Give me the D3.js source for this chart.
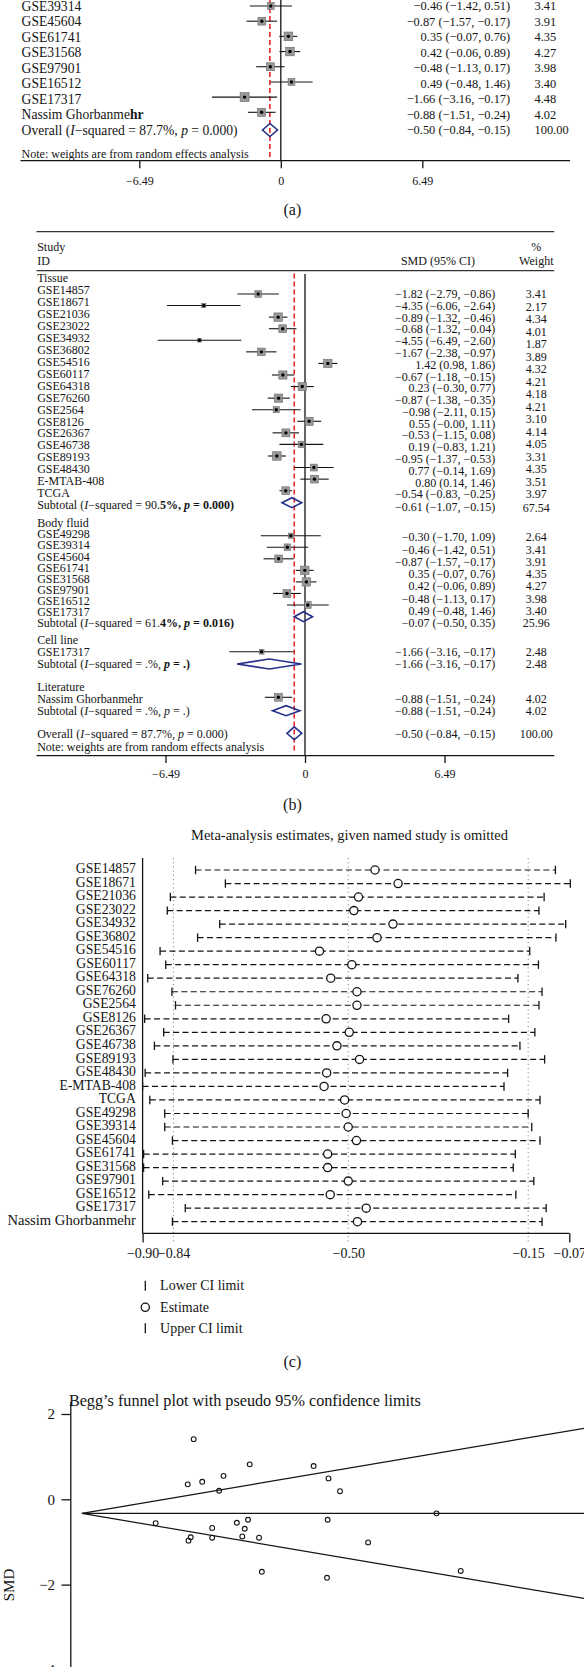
<!DOCTYPE html>
<html><head><meta charset="utf-8">
<script src="https://cdn.jsdelivr.net/npm/d3@7"></script>
<style>
body{margin:0;background:#fff}
svg{display:block;font-family:"Liberation Serif","Times New Roman",serif}
text{white-space:pre}
</style>
</head><body>
<svg id="c" width="584" height="1667"></svg>
<script>
// ---------------- DATA ----------------
// Panel (a)
const aStudies = ["GSE39314","GSE45604","GSE61741","GSE31568","GSE97901","GSE16512","GSE17317","Nassim Ghorbanmehr"];
const aSMD   = [-0.46,-0.87,0.35,0.42,-0.48,0.49,-1.66,-0.88];
const aLower = [-1.42,-1.57,-0.07,-0.06,-1.13,-0.48,-3.16,-1.51];
const aUpper = [0.51,-0.17,0.76,0.89,0.17,1.46,-0.17,-0.24];
const aWeight = ["3.41","3.91","4.35","4.27","3.98","3.40","4.48","4.02"];
const overall = [-0.50,-0.84,-0.15];
const overallWeight = "100.00";
const axisTicksAB = [-6.49, 0, 6.49];

// Panel (b)
const tissueStudies = ["GSE14857","GSE18671","GSE21036","GSE23022","GSE34932","GSE36802","GSE54516","GSE60117","GSE64318","GSE76260","GSE2564","GSE8126","GSE26367","GSE46738","GSE89193","GSE48430","E-MTAB-408","TCGA"];
const tissueSMD   = [-1.82,-4.35,-0.89,-0.68,-4.55,-1.67,1.42,-0.67,0.23,-0.87,-0.98,0.55,-0.53,0.19,-0.95,0.77,0.80,-0.54];
const tissueLower = [-2.79,-6.06,-1.32,-1.32,-6.49,-2.38,0.98,-1.18,-0.30,-1.38,-2.11,-0.00,-1.15,-0.83,-1.37,-0.14,0.14,-0.83];
const tissueUpper = [-0.86,-2.64,-0.46,-0.04,-2.60,-0.97,1.86,-0.15,0.77,-0.35,0.15,1.11,0.08,1.21,-0.53,1.69,1.46,-0.25];
const tissueWeight = ["3.41","2.17","4.34","4.01","1.87","3.89","4.32","4.21","4.18","4.21","3.10","4.14","4.05","3.31","4.35","3.51","3.97"];
const tissueSub = [-0.61,-1.07,-0.15]; const tissueSubW = "67.54";

const bodyLabels = ["GSE49298","GSE39314","GSE45604","GSE61741","GSE31568","GSE97901","GSE16512","GSE17317"];
const bodySMD   = [-0.30,-0.46,-0.87,0.35,0.42,-0.48,0.49];
const bodyLower = [-1.70,-1.42,-1.57,-0.07,-0.06,-1.13,-0.48];
const bodyUpper = [1.09,0.51,-0.17,0.76,0.89,0.17,1.46];
const bodyWeight = ["2.64","3.41","3.91","4.35","4.27","3.98","3.40"];
const bodySub = [-0.07,-0.50,0.35]; const bodySubW = "25.96";

const cellStudies = ["GSE17317"]; const cellSMD=[-1.66]; const cellLower=[-3.16]; const cellUpper=[-0.17]; const cellWeight=["2.48"];
const cellSub = [-1.66,-3.16,-0.17]; const cellSubW = "2.48";
const litStudies = ["Nassim Ghorbanmehr"]; const litSMD=[-0.88]; const litLower=[-1.51]; const litUpper=[-0.24]; const litWeight=["4.02"];
const litSub = [-0.88,-1.51,-0.24]; const litSubW = "4.02";

// Panel (c)
const cStudies = ["GSE14857","GSE18671","GSE21036","GSE23022","GSE34932","GSE36802","GSE54516","GSE60117","GSE64318","GSE76260","GSE2564","GSE8126","GSE26367","GSE46738","GSE89193","GSE48430","E-MTAB-408","TCGA","GSE49298","GSE39314","GSE45604","GSE61741","GSE31568","GSE97901","GSE16512","GSE17317","Nassim Ghorbanmehr"];
const cLower = [-0.797,-0.739,-0.846,-0.852,-0.750,-0.793,-0.866,-0.855,-0.890,-0.843,-0.836,-0.896,-0.859,-0.877,-0.841,-0.895,-0.900,-0.886,-0.857,-0.857,-0.842,-0.898,-0.898,-0.861,-0.888,-0.817,-0.842];
const cEst   = [-0.448,-0.403,-0.480,-0.489,-0.413,-0.444,-0.556,-0.493,-0.534,-0.483,-0.483,-0.543,-0.498,-0.522,-0.478,-0.542,-0.547,-0.507,-0.504,-0.500,-0.484,-0.540,-0.540,-0.500,-0.535,-0.465,-0.482];
const cUpper = [-0.097,-0.068,-0.119,-0.129,-0.077,-0.096,-0.147,-0.130,-0.170,-0.123,-0.129,-0.188,-0.137,-0.166,-0.118,-0.190,-0.197,-0.127,-0.150,-0.143,-0.127,-0.175,-0.179,-0.139,-0.174,-0.115,-0.123];
const cTicks = [-0.90,-0.84,-0.50,-0.15,-0.07];
const cRefLines = [-0.84,-0.50,-0.15];
const cLegend = ["Lower CI limit","Estimate","Upper CI limit"];

// Panel (d)
const funnelSE  = [0.2265,0.2144,0.2438,0.287,0.278,0.34,0.4695,0.4997,0.523,0.1495,0.216,0.2205,0.264,0.264,0.314,0.3366,0.33,0.325,0.359,0.3646,0.4967,0.498,0.58,0.7186,0.7676,0.436,0.496];
const funnelSMD = [1.41,0.35,0.41,0.55,0.20,0.82,0.78,0.49,0.19,-0.56,-0.97,-0.89,-0.67,-0.90,-0.55,-0.48,-0.69,-0.87,-0.90,-1.70,-1.84,-0.48,-1.01,-0.33,-1.68,-4.35,-4.55];
const funnelPooled = -0.33;
const dTicks = [2,0,-2,-4];

// ---------------- HELPERS ----------------
const svg = d3.select("#c");
const MINUS = "\u2212";
const fmt = v => ((v < 0 || Object.is(v, -0)) ? MINUS : "") + Math.abs(v).toFixed(2);
const ciText = (m,l,u) => `${fmt(m)} (${fmt(l)}, ${fmt(u)})`;
const INK = "#141414", RED = "#e3262c", NAVY = "#25308a";

function rich(g, x, y, parts, size, anchor) {
  const t = g.append("text").attr("x", x).attr("y", y).attr("dy", "0.34em")
    .attr("font-size", size).attr("text-anchor", anchor || "start").attr("fill", INK);
  parts.forEach(p => {
    const [s, st] = Array.isArray(p) ? p : [p, ""];
    const ts = t.append("tspan").text(s);
    if (st.includes("i")) ts.attr("font-style", "italic");
    if (st.includes("b")) ts.attr("font-weight", "bold");
  });
  return t;
}
function study(g, xs, y, m, l, u, size) {
  g.append("line").attr("x1", xs(l)).attr("x2", xs(u)).attr("y1", y).attr("y2", y)
    .attr("stroke", INK).attr("stroke-width", 1.1);
  g.append("rect").attr("x", xs(m) - size/2).attr("y", y - size/2).attr("width", size).attr("height", size)
    .attr("fill", "#999").attr("stroke", "#6a6a6a").attr("stroke-width", 0.6);
  g.append("circle").attr("cx", xs(m)).attr("cy", y).attr("r", 1.7).attr("fill", "#000");
}
function diamond(g, xs, y, m, l, u, h) {
  g.append("path").attr("d", `M${xs(l)},${y}L${xs(m)},${y-h}L${xs(u)},${y}L${xs(m)},${y+h}Z`)
    .attr("fill", "none").attr("stroke", NAVY).attr("stroke-width", 1.6);
}
function stat(prefix, i2, p, boldTail, boldI2Tail) {
  const parts = [prefix + " (", ["I", "i"]];
  if (boldI2Tail) {
    parts.push(MINUS + "squared = " + i2.slice(0, -2));
    parts.push([i2.slice(-2) + ", ", "b"]);
    parts.push(["p", "bi"]); parts.push([" = " + p + ")", "b"]);
  } else {
    parts.push(MINUS + "squared = " + i2 + ", ");
    parts.push(["p", boldTail ? "bi" : "i"]); parts.push([" = " + p + ")", boldTail ? "b" : ""]);
  }
  return parts;
}
function styleAxis(ax, size) {
  ax.select(".domain").remove();
  ax.attr("font-family", null).attr("font-size", size);
  ax.selectAll("line").attr("stroke", INK).attr("stroke-width", 1.3);
  ax.selectAll("text").attr("fill", INK);
}

// ---------------- PANEL (a) ----------------
{
  const g = svg.append("g");
  const xa = d3.scaleLinear().domain([-6.49, 6.49]).range([139.3, 422.3]);
  const rowA = d3.scaleLinear().domain([0, 8]).range([6, 130]);
  const markA = d3.scaleLinear().domain([0, 7]).range([6, 112.3]);
  const axisY = 160.7;
  g.append("line").attr("x1", xa(0)).attr("x2", xa(0)).attr("y1", 0).attr("y2", axisY).attr("stroke", INK).attr("stroke-width", 1.3);
  g.append("line").attr("x1", xa(overall[0])).attr("x2", xa(overall[0])).attr("y1", 0).attr("y2", axisY - 1)
    .attr("stroke", RED).attr("stroke-width", 1.6).attr("stroke-dasharray", "5,3");
  aStudies.forEach((s, i) => {
    const parts = s === "Nassim Ghorbanmehr" ? [s.slice(0, -2), [s.slice(-2), "b"]] : [s];
    rich(g, 21.6, rowA(i), parts, 13.6);
    study(g, xa, markA(i), aSMD[i], aLower[i], aUpper[i], 2.0 * +aWeight[i]);
    rich(g, 510.2, rowA(i), [ciText(aSMD[i], aLower[i], aUpper[i])], 12.4, "end");
    rich(g, 534.5, rowA(i), [aWeight[i]], 12.4);
  });
  rich(g, 21.6, rowA(8), stat("Overall", "87.7%", "0.000", false, false), 13.6);
  diamond(g, xa, rowA(8), overall[0], overall[1], overall[2], 6.5);
  rich(g, 510.2, rowA(8), [ciText(...overall)], 12.4, "end");
  rich(g, 534.5, rowA(8), [overallWeight], 12.4);
  rich(g, 21.6, 154, ["Note: weights are from random effects analysis"], 12);
  g.append("line").attr("x1", 20.5).attr("x2", 570).attr("y1", axisY).attr("y2", axisY).attr("stroke", INK).attr("stroke-width", 1.3);
  const ax = g.append("g").attr("transform", `translate(0,${axisY})`)
    .call(d3.axisBottom(xa).tickValues(axisTicksAB).tickFormat(d => d === 0 ? "0" : fmt(d)).tickSize(7.6).tickPadding(8).tickSizeOuter(0));
  styleAxis(ax, 12);
  rich(g, 292.4, 210, ["(a)"], 16, "middle");
}

// ---------------- PANEL (b) ----------------
{
  const g = svg.append("g");
  const xb = d3.scaleLinear().domain([-6.49, 6.49]).range([165.5, 444.5]);
  const xbS = d3.scaleLinear().domain([-6.49, 6.49]).range([165.5 - 7.7, 444.5 - 7.7]);
  const axisY = 755.7;
  const LX = 37.2, VX = 495.3, WX = 536.3, FS = 12;
  g.append("line").attr("x1", 36.5).attr("x2", 554.2).attr("y1", 231.7).attr("y2", 231.7).attr("stroke", "#333").attr("stroke-width", 1.3);
  g.append("line").attr("x1", 36.5).attr("x2", 554.2).attr("y1", 270.7).attr("y2", 270.7).attr("stroke", "#333").attr("stroke-width", 1.3);
  rich(g, LX, 246.7, ["Study"], FS); rich(g, LX, 260.7, ["ID"], FS);
  rich(g, 474.9, 261, ["SMD (95% CI)"], FS, "end");
  rich(g, WX, 246.7, ["%"], FS, "middle"); rich(g, WX, 261, ["Weight"], FS, "middle");
  g.append("line").attr("x1", xb(0)).attr("x2", xb(0)).attr("y1", 274).attr("y2", axisY).attr("stroke", INK).attr("stroke-width", 1.3);
  g.append("line").attr("x1", xb(overall[0])).attr("x2", xb(overall[0])).attr("y1", 273.5).attr("y2", axisY - 3)
    .attr("stroke", RED).attr("stroke-width", 1.6).attr("stroke-dasharray", "5,3");

  // Tissue
  const tLab = d3.scaleLinear().domain([0, 19]).range([278.3, 505]);
  const tMark = d3.scaleLinear().domain([0, 17]).range([294, 490.7]);
  const tVal = d3.scaleLinear().domain([0, 17]).range([294, 494.3]);
  const tW = d3.scaleLinear().domain([0, 16]).range([294, 494.3]);
  rich(g, LX, tLab(0), ["Tissue"], FS);
  tissueStudies.forEach((s, i) => {
    rich(g, LX, tLab(i + 1), [s], FS);
    const w = +tissueWeight[Math.min(i, tissueWeight.length - 1)];
    study(g, xbS, tMark(i), tissueSMD[i], tissueLower[i], tissueUpper[i], 1.95 * w);
    rich(g, VX, tVal(i), [ciText(tissueSMD[i], tissueLower[i], tissueUpper[i])], FS, "end");
  });
  tissueWeight.forEach((w, k) => rich(g, WX, tW(k), [w], FS, "middle"));
  rich(g, LX, tLab(19), stat("Subtotal", "90.5%", "0.000", true, true), FS);
  diamond(g, xb, 502.7, ...tissueSub, 5);
  rich(g, VX, 506.7, [ciText(...tissueSub)], FS, "end");
  rich(g, WX, 507.7, [tissueSubW], FS, "middle");

  // Body fluid
  const bLab = d3.scaleLinear().domain([0, 9]).range([523.3, 622.7]);
  const bMark = d3.scaleLinear().domain([0, 6]).range([535.7, 605]);
  const bVal = d3.scaleLinear().domain([0, 6]).range([537.3, 610.7]);
  rich(g, LX, bLab(0), ["Body fluid"], FS);
  bodyLabels.forEach((s, i) => rich(g, LX, bLab(i + 1), [s], FS));
  bodySMD.forEach((m, i) => {
    study(g, xbS, bMark(i), m, bodyLower[i], bodyUpper[i], 1.95 * +bodyWeight[i]);
    rich(g, VX, bVal(i), [ciText(m, bodyLower[i], bodyUpper[i])], FS, "end");
    rich(g, WX, bVal(i), [bodyWeight[i]], FS, "middle");
  });
  rich(g, LX, bLab(9), stat("Subtotal", "61.4%", "0.016", true, true), FS);
  diamond(g, xb, 616.7, ...bodySub, 5);
  rich(g, VX, 622.7, [ciText(...bodySub)], FS, "end");
  rich(g, WX, 622.7, [bodySubW], FS, "middle");

  // Cell line
  rich(g, LX, 640, ["Cell line"], FS);
  rich(g, LX, 651.7, [cellStudies[0]], FS);
  study(g, xbS, 651.7, cellSMD[0], cellLower[0], cellUpper[0], 1.95 * +cellWeight[0]);
  rich(g, VX, 652.3, [ciText(cellSMD[0], cellLower[0], cellUpper[0])], FS, "end");
  rich(g, WX, 652.3, [cellWeight[0]], FS, "middle");
  rich(g, LX, 664, stat("Subtotal", ".%", ".", true, false), FS);
  diamond(g, xb, 664, ...cellSub, 5);
  rich(g, VX, 664, [ciText(...cellSub)], FS, "end");
  rich(g, WX, 664, [cellSubW], FS, "middle");

  // Literature
  rich(g, LX, 687.3, ["Literature"], FS);
  rich(g, LX, 699, [litStudies[0]], FS);
  study(g, xbS, 697.3, litSMD[0], litLower[0], litUpper[0], 1.95 * +litWeight[0]);
  rich(g, VX, 699, [ciText(litSMD[0], litLower[0], litUpper[0])], FS, "end");
  rich(g, WX, 699, [litWeight[0]], FS, "middle");
  rich(g, LX, 710.7, stat("Subtotal", ".%", ".", false, false), FS);
  diamond(g, xb, 710.7, ...litSub, 5);
  rich(g, VX, 710.7, [ciText(...litSub)], FS, "end");
  rich(g, WX, 710.7, [litSubW], FS, "middle");

  // Overall
  rich(g, LX, 734, stat("Overall", "87.7%", "0.000", false, false), FS);
  diamond(g, xb, 733.3, ...overall, 6.5);
  rich(g, VX, 734, [ciText(...overall)], FS, "end");
  rich(g, WX, 734, [overallWeight], FS, "middle");
  rich(g, LX, 746.7, ["Note: weights are from random effects analysis"], FS);

  g.append("line").attr("x1", 36.5).attr("x2", 554.2).attr("y1", axisY).attr("y2", axisY).attr("stroke", INK).attr("stroke-width", 1.3);
  const ax = g.append("g").attr("transform", `translate(0,${axisY})`)
    .call(d3.axisBottom(xb).tickValues(axisTicksAB).tickFormat(d => d === 0 ? "0" : fmt(d)).tickSize(7.3).tickPadding(6.7).tickSizeOuter(0));
  styleAxis(ax, 12);
  rich(g, 292.4, 805, ["(b)"], 16, "middle");
}

// ---------------- PANEL (c) ----------------
{
  const g = svg.append("g");
  const xc = d3.scaleLinear().domain([-0.90, -0.07]).range([142.6, 569.3]);
  const rowC = d3.scaleLinear().domain([0, cStudies.length - 1]).range([870, 1221.7]);
  const axisY = 1233.3, topY = 858;
  rich(g, 349.5, 835, ["Meta-analysis estimates, given named study is omitted"], 14.5, "middle");
  cRefLines.forEach(v => g.append("line").attr("x1", xc(v)).attr("x2", xc(v)).attr("y1", topY).attr("y2", axisY + 9.3)
    .attr("stroke", "#8a8a8a").attr("stroke-width", 1).attr("stroke-dasharray", "1.2,3"));
  g.append("line").attr("x1", xc(-0.90)).attr("x2", xc(-0.90)).attr("y1", topY).attr("y2", axisY).attr("stroke", INK).attr("stroke-width", 1.3);
  g.append("line").attr("x1", xc(-0.90)).attr("x2", xc(-0.07)).attr("y1", axisY).attr("y2", axisY).attr("stroke", INK).attr("stroke-width", 1.3);
  cStudies.forEach((s, i) => {
    const y = rowC(i);
    rich(g, 135.9, y - 1.5, [s], s.length > 12 ? 14.6 : 13.7, "end");
    g.append("line").attr("x1", xc(cLower[i])).attr("x2", xc(cUpper[i])).attr("y1", y).attr("y2", y)
      .attr("stroke", INK).attr("stroke-width", 1.2).attr("stroke-dasharray", "6,3.4");
    [cLower[i], cUpper[i]].forEach(v => g.append("line").attr("x1", xc(v)).attr("x2", xc(v)).attr("y1", y - 4.2).attr("y2", y + 4.2)
      .attr("stroke", INK).attr("stroke-width", 1.3));
    g.append("circle").attr("cx", xc(cEst[i])).attr("cy", y).attr("r", 4.1).attr("fill", "#fff").attr("stroke", INK).attr("stroke-width", 1.3);
  });
  const ax = g.append("g").attr("transform", `translate(0,${axisY})`)
    .call(d3.axisBottom(xc).tickValues(cTicks).tickFormat(fmt).tickSize(9.3).tickPadding(5.4).tickSizeOuter(0));
  styleAxis(ax, 14);
  ax.selectAll(".tick").filter(d => cRefLines.includes(d)).select("line").remove();
  const ly = [1285.7, 1307.3, 1328.3];
  g.append("line").attr("x1", 145.3).attr("x2", 145.3).attr("y1", ly[0] - 5).attr("y2", ly[0] + 5).attr("stroke", INK).attr("stroke-width", 1.3);
  g.append("circle").attr("cx", 145.3).attr("cy", ly[1]).attr("r", 4.1).attr("fill", "#fff").attr("stroke", INK).attr("stroke-width", 1.3);
  g.append("line").attr("x1", 145.3).attr("x2", 145.3).attr("y1", ly[2] - 5).attr("y2", ly[2] + 5).attr("stroke", INK).attr("stroke-width", 1.3);
  cLegend.forEach((t, i) => rich(g, 160.1, ly[i], [t], 14));
  rich(g, 292.4, 1361.7, ["(c)"], 16, "middle");
}

// ---------------- PANEL (d) ----------------
{
  const g = svg.append("g");
  const xd = d3.scaleLinear().domain([0, 1]).range([81.9, 575.4]);
  const yd = d3.scaleLinear().domain([0, 2]).range([1499.3, 1414]);
  rich(g, 68.9, 1400, ["Begg\u2019s funnel plot with pseudo 95% confidence limits"], 16.2);
  g.append("line").attr("x1", 70.8).attr("x2", 70.8).attr("y1", 1401.7).attr("y2", 1680).attr("stroke", INK).attr("stroke-width", 1.3);
  const ax = g.append("g").attr("transform", "translate(70.8,0)")
    .call(d3.axisLeft(yd).tickValues(dTicks).tickFormat(d => d < 0 ? MINUS + Math.abs(d) : String(d)).tickSize(9.3).tickPadding(6.4).tickSizeOuter(0));
  styleAxis(ax, 15);
  g.append("text").attr("transform", "translate(13.5,1585) rotate(-90)").attr("text-anchor", "middle")
    .attr("font-size", 15).attr("fill", INK).text("SMD");
  const seMax = xd.invert(590);
  const line = d3.line().x(d => xd(d[0])).y(d => yd(d[1]));
  [[[0, funnelPooled], [seMax, funnelPooled + 1.96 * seMax]],
   [[0, funnelPooled], [seMax, funnelPooled]],
   [[0, funnelPooled], [seMax, funnelPooled - 1.96 * seMax]]].forEach(pts =>
    g.append("path").attr("d", line(pts)).attr("fill", "none").attr("stroke", INK).attr("stroke-width", 1.2));
  funnelSE.forEach((s, i) => g.append("circle").attr("cx", xd(s)).attr("cy", yd(funnelSMD[i])).attr("r", 2.4)
    .attr("fill", "none").attr("stroke", INK).attr("stroke-width", 1.1));
}
</script>
</body></html>
